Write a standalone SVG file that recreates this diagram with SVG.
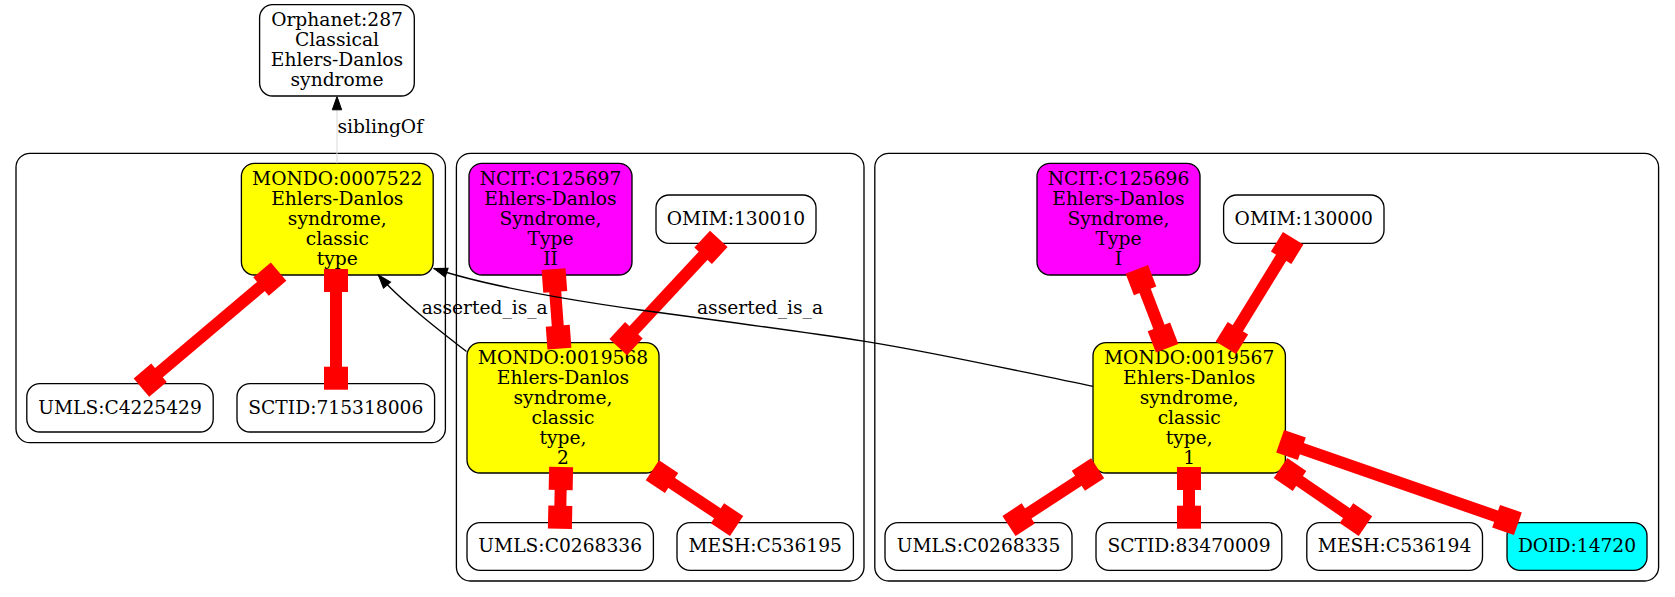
<svg xmlns="http://www.w3.org/2000/svg" width="1675" height="597" viewBox="0 0 1675 597">
<style>
.bg{fill:#fff}
.cl{fill:none;stroke:#000;stroke-width:1.33}
.n{stroke:#000;stroke-width:1.33}
.w{fill:#fff}.y{fill:#ffff00}.m{fill:#ff00ff}.c{fill:#00ffff}
text{font-family:"DejaVu Serif","Liberation Serif",serif;font-size:18.67px;fill:#000}
.t{text-anchor:middle}
.e{stroke:#ff0000;stroke-width:12;fill:none;marker-start:url(#tee);marker-end:url(#tee)}
.a{stroke:#000;stroke-width:1.33;fill:none;marker-end:url(#arr)}
.s{stroke:#d8d8d8;stroke-width:1;fill:none;marker-end:url(#arr)}
</style>
<defs>
<marker id="tee" markerUnits="userSpaceOnUse" orient="auto-start-reverse" refX="0" refY="0" markerWidth="40" markerHeight="40" overflow="visible">
<rect x="-17" y="-12" width="23" height="24" fill="#ff0000"/>
</marker>
<marker id="arr" markerUnits="userSpaceOnUse" orient="auto" refX="0" refY="0" markerWidth="20" markerHeight="20" overflow="visible">
<polygon points="-13.3,-4.7 0,0 -13.3,4.7" fill="#000" stroke="#000" stroke-width="1"/>
</marker>
</defs>
<rect class="bg" x="0" y="0" width="1675" height="597"/>
<g id="clusters">
<rect class="cl" x="16" y="153.3" width="429.4" height="289.4" rx="14"/>
<rect class="cl" x="456.4" y="153.3" width="407.6" height="427.7" rx="14"/>
<rect class="cl" x="874.8" y="153.3" width="783.8" height="427.7" rx="14"/>
</g>
<g id="n_orphanet"><rect class="n w" x="259.6" y="4.7" width="154.7" height="91.3" rx="13"/>
<text class="t" x="337" y="25.8">Orphanet:287<tspan x="337" dy="20">Classical</tspan><tspan x="337" dy="20">Ehlers-Danlos</tspan><tspan x="337" dy="20">syndrome</tspan></text></g>
<g id="n_mondo7522"><rect class="n y" x="241.4" y="163.3" width="191.8" height="111.7" rx="13"/>
<text class="t" x="337.3" y="184.5">MONDO:0007522<tspan x="337.3" dy="20">Ehlers-Danlos</tspan><tspan x="337.3" dy="20">syndrome,</tspan><tspan x="337.3" dy="20">classic</tspan><tspan x="337.3" dy="20">type</tspan></text></g>
<g id="n_umls4225429"><rect class="n w" x="26.8" y="383.7" width="186.4" height="48.3" rx="13"/>
<text class="t" x="120" y="413.5">UMLS:C4225429</text></g>
<g id="n_sctid715318006"><rect class="n w" x="237" y="383.7" width="197.6" height="48.3" rx="13"/>
<text class="t" x="335.8" y="413.5">SCTID:715318006</text></g>
<g id="n_ncit125697"><rect class="n m" x="469" y="163.3" width="163" height="111.7" rx="13"/>
<text class="t" x="550.5" y="184.5">NCIT:C125697<tspan x="550.5" dy="20">Ehlers-Danlos</tspan><tspan x="550.5" dy="20">Syndrome,</tspan><tspan x="550.5" dy="20">Type</tspan><tspan x="550.5" dy="20">II</tspan></text></g>
<g id="n_omim130010"><rect class="n w" x="656" y="195" width="160" height="48.3" rx="13"/>
<text class="t" x="736" y="224.5">OMIM:130010</text></g>
<g id="n_mondo19568"><rect class="n y" x="467" y="342.7" width="192" height="130.3" rx="13"/>
<text class="t" x="563" y="363.5">MONDO:0019568<tspan x="563" dy="20">Ehlers-Danlos</tspan><tspan x="563" dy="20">syndrome,</tspan><tspan x="563" dy="20">classic</tspan><tspan x="563" dy="20">type,</tspan><tspan x="563" dy="20">2</tspan></text></g>
<g id="n_umls0268336"><rect class="n w" x="467" y="522.7" width="186.4" height="47.6" rx="13"/>
<text class="t" x="560.2" y="552">UMLS:C0268336</text></g>
<g id="n_mesh536195"><rect class="n w" x="677" y="522.7" width="176.4" height="47.6" rx="13"/>
<text class="t" x="765.2" y="552">MESH:C536195</text></g>
<g id="n_ncit125696"><rect class="n m" x="1037" y="163.3" width="163" height="111.7" rx="13"/>
<text class="t" x="1118.5" y="184.5">NCIT:C125696<tspan x="1118.5" dy="20">Ehlers-Danlos</tspan><tspan x="1118.5" dy="20">Syndrome,</tspan><tspan x="1118.5" dy="20">Type</tspan><tspan x="1118.5" dy="20">I</tspan></text></g>
<g id="n_omim130000"><rect class="n w" x="1223.6" y="195" width="160.4" height="48.3" rx="13"/>
<text class="t" x="1303.8" y="224.5">OMIM:130000</text></g>
<g id="n_mondo19567"><rect class="n y" x="1093" y="342.7" width="192.4" height="130.3" rx="13"/>
<text class="t" x="1189.2" y="363.5">MONDO:0019567<tspan x="1189.2" dy="20">Ehlers-Danlos</tspan><tspan x="1189.2" dy="20">syndrome,</tspan><tspan x="1189.2" dy="20">classic</tspan><tspan x="1189.2" dy="20">type,</tspan><tspan x="1189.2" dy="20">1</tspan></text></g>
<g id="n_umls0268335"><rect class="n w" x="885" y="522.7" width="187" height="47.6" rx="13"/>
<text class="t" x="978.5" y="552">UMLS:C0268335</text></g>
<g id="n_sctid83470009"><rect class="n w" x="1096" y="522.7" width="185.8" height="47.6" rx="13"/>
<text class="t" x="1189" y="552">SCTID:83470009</text></g>
<g id="n_mesh536194"><rect class="n w" x="1306.8" y="522.7" width="175.7" height="47.6" rx="13"/>
<text class="t" x="1394.6" y="552">MESH:C536194</text></g>
<g id="n_doid14720"><rect class="n c" x="1507" y="522.7" width="140" height="47.6" rx="13"/>
<text class="t" x="1577" y="552">DOID:14720</text></g>
<g id="edges">
<path class="e" d="M274,275.5 L146,383.7"/>
<path class="e" d="M336,275 L336,383.7"/>
<path class="e" d="M554,275 L559,342.7"/>
<path class="e" d="M714.7,243.3 L622.3,342.7"/>
<path class="e" d="M561,473 L560,522.7"/>
<path class="e" d="M657.4,473.5 L731.6,522.7"/>
<path class="e" d="M1139,275 L1165,342.7"/>
<path class="e" d="M1290,243.3 L1229,342.7"/>
<path class="e" d="M1092.6,471.5 L1014,522.7"/>
<path class="e" d="M1189,473 L1189,522.7"/>
<path class="e" d="M1285.5,471.4 L1360.5,522.7"/>
<path class="e" d="M1285.8,443.2 L1512.2,521.8"/>
<path class="s" d="M337,163.3 L337,96.5"/>
<path class="a" d="M466.5,351.5 C440,331 400,300 378.3,275"/>
<path class="a" d="M1093,386.3 C1017,371 941,353.5 865,341.3 C790,330 715,320 640,310 C576,301 490,287 434,268.5"/>
<text x="337.5" y="133">siblingOf</text>
<text x="421.7" y="313.5">asserted_is_a</text>
<text x="697" y="313.5">asserted_is_a</text>
</g>
</svg>
